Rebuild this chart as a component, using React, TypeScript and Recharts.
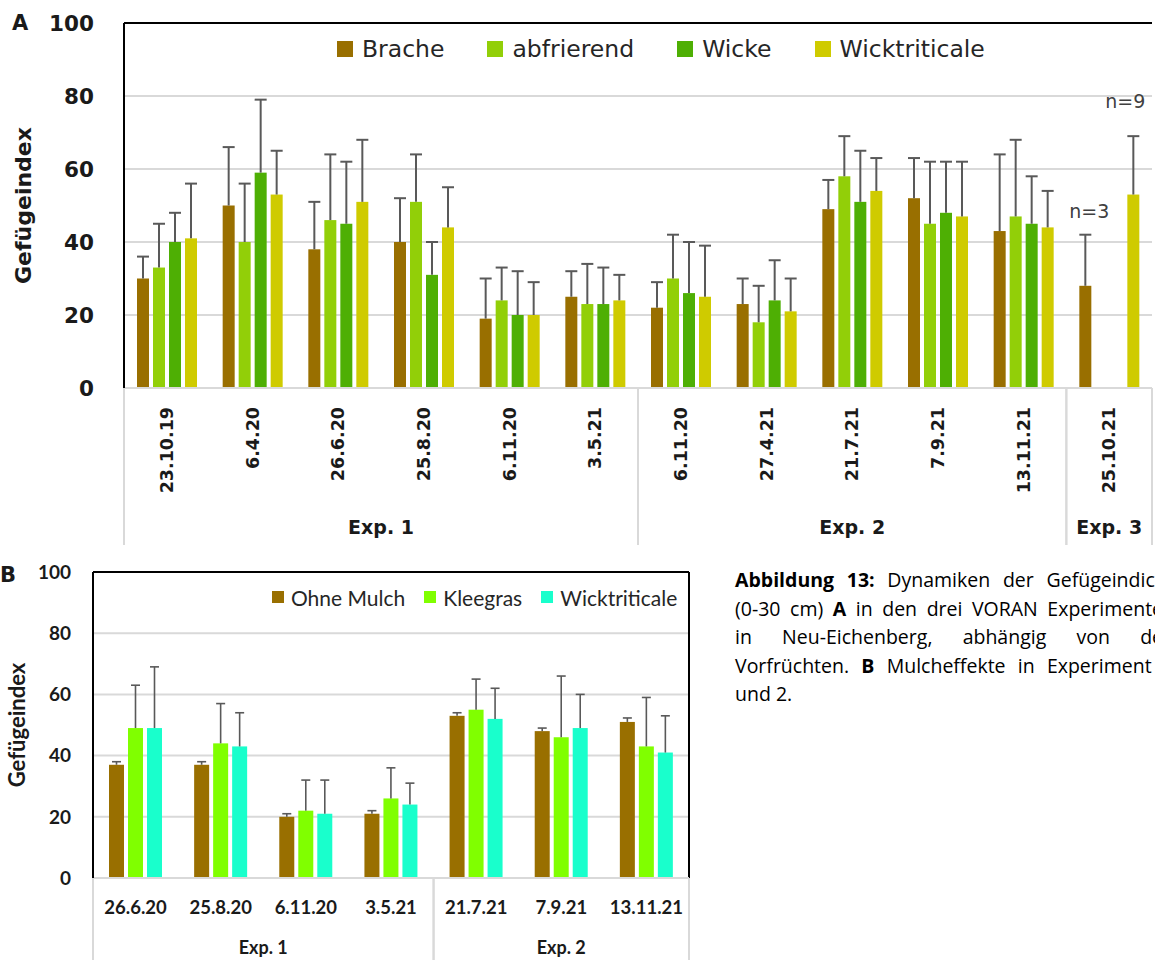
import React from 'react';
import { BarChart, Bar, XAxis, YAxis, CartesianGrid, Legend, ReferenceLine, Label } from 'recharts';

// ---------- Data: chart A ----------
const datesA = ['23.10.19', '6.4.20', '26.6.20', '25.8.20', '6.11.20', '3.5.21', '6.11.20', '27.4.21', '21.7.21', '7.9.21', '13.11.21', '25.10.21'];
const expA = ['Exp. 1', 'Exp. 1', 'Exp. 1', 'Exp. 1', 'Exp. 1', 'Exp. 1', 'Exp. 2', 'Exp. 2', 'Exp. 2', 'Exp. 2', 'Exp. 2', 'Exp. 3'];
const seriesNamesA = ['Brache', 'abfrierend', 'Wicke', 'Wicktriticale'];
const bracheMean = [30, 50, 38, 40, 19, 25, 22, 23, 49, 52, 43, 28];
const bracheSd = [6, 16, 13, 12, 11, 7, 7, 7, 8, 11, 21, 14];
const abfrierendMean = [33, 40, 46, 51, 24, 23, 30, 18, 58, 45, 47, null];
const abfrierendSd = [12, 16, 18, 13, 9, 11, 12, 10, 11, 17, 21, null];
const wickeMean = [40, 59, 45, 31, 20, 23, 26, 24, 51, 48, 45, null];
const wickeSd = [8, 20, 17, 9, 12, 10, 14, 11, 14, 14, 13, null];
const wtMeanA = [41, 53, 51, 44, 20, 24, 25, 21, 54, 47, 44, 53];
const wtSdA = [15, 12, 17, 11, 9, 7, 14, 9, 9, 15, 10, 16];
const bracheNotes = [null, null, null, null, null, null, null, null, null, null, null, 'n=3'];
const wtNotesA = [null, null, null, null, null, null, null, null, null, null, null, 'n=9'];
const groupsA = [
  { label: 'Exp. 1', start: 0, end: 5 },
  { label: 'Exp. 2', start: 6, end: 10 },
  { label: 'Exp. 3', start: 11, end: 11 },
];
const yTicks = [0, 20, 40, 60, 80, 100];

// ---------- Data: chart B ----------
const datesB = ['26.6.20', '25.8.20', '6.11.20', '3.5.21', '21.7.21', '7.9.21', '13.11.21'];
const expB = ['Exp. 1', 'Exp. 1', 'Exp. 1', 'Exp. 1', 'Exp. 2', 'Exp. 2', 'Exp. 2'];
const seriesNamesB = ['Ohne Mulch', 'Kleegras', 'Wicktriticale'];
const ohneMean = [37, 37, 20, 21, 53, 48, 51];
const ohneSd = [1, 1, 1, 1, 1, 1, 1.3];
const kleeMean = [49, 44, 22, 26, 55, 46, 43];
const kleeSd = [14, 13, 10, 10, 10, 20, 16];
const wtMeanB = [49, 43, 21, 24, 52, 49, 41];
const wtSdB = [20, 11, 11, 7, 10, 11, 12];
const groupsB = [
  { label: 'Exp. 1', start: 0, end: 3 },
  { label: 'Exp. 2', start: 4, end: 6 },
];

const dataA = datesA.map((d, i) => ({
  slot: `${expA[i]} ${d}`,
  brache: bracheMean[i], bracheSd: bracheSd[i], bracheNote: bracheNotes[i],
  abfrierend: abfrierendMean[i], abfrierendSd: abfrierendSd[i],
  wicke: wickeMean[i], wickeSd: wickeSd[i],
  wt: wtMeanA[i], wtSd: wtSdA[i], wtNote: wtNotesA[i],
}));

const dataB = datesB.map((d, i) => ({
  slot: `${expB[i]} ${d}`,
  ohne: ohneMean[i], ohneSd: ohneSd[i],
  klee: kleeMean[i], kleeSd: kleeSd[i],
  wt: wtMeanB[i], wtSd: wtSdB[i],
}));

// ---------- Styles ----------
const ERR = '#595959';
const GRID = '#D9D9D9';
const TXT = '#1a1a1a';
const FA = 'DejaVu Sans';
const FB = 'Lato';
const NOTE_OFFSET: Record<string, { dx: number; dy: number }> = {
  'n=3': { dx: 4, dy: -24 },
  'n=9': { dx: -8, dy: -35 },
};

const A_W = 1155, A_H = 550;
const A_M = { top: 23, right: 3, left: 0, bottom: 5 };
const A_YW = 124, A_XH = 157;
const BAND_A = (A_W - A_M.right - A_YW) / datesA.length;

const B_W = 700, B_H = 412;
const B_M = { top: 22, right: 11, left: 0, bottom: 2 };
const B_YW = 93, B_XH = 82;
const BAND_B = (B_W - B_M.right - B_YW) / datesB.length;

function makeShape(valueKey: string, sdKey: string, noteKey: string | null, cap: number, sw: number) {
  return (props: any) => {
    const { x, y, width, height, fill, payload } = props;
    const v = payload ? payload[valueKey] : null;
    if (v == null || !(height > 0)) return <g />;
    const k = height / v;
    const sd = payload[sdKey] || 0;
    const cx = x + width / 2;
    const yTop = y - sd * k;
    const note = noteKey ? payload[noteKey] : null;
    const off = note ? NOTE_OFFSET[note] || { dx: 0, dy: -25 } : null;
    return (
      <g>
        <rect x={x} y={y} width={width} height={height} fill={fill} />
        {sd > 0 && <line x1={cx} x2={cx} y1={y} y2={yTop} stroke={ERR} strokeWidth={sw} />}
        {sd > 0 && <line x1={cx - cap / 2} x2={cx + cap / 2} y1={yTop} y2={yTop} stroke={ERR} strokeWidth={sw} />}
        {note && off && (
          <text x={cx + off.dx} y={yTop + off.dy} textAnchor="middle" dominantBaseline="central"
            fontFamily={FA} fontSize={19} fill="#404040">{note}</text>
        )}
      </g>
    );
  };
}

function TickA(props: any) {
  const { x, y, index } = props;
  const start = groupsA.find((g) => g.start === index);
  const end = groupsA.find((g) => g.end === index);
  const ty = y + 19;
  return (
    <g>
      <text x={x} y={ty} transform={`rotate(-90 ${x} ${ty})`} textAnchor="end" dominantBaseline="central"
        fontFamily={FA} fontWeight="bold" fontSize={17.5} fill={TXT}>{datesA[index]}</text>
      {start && <line x1={x - BAND_A / 2} x2={x - BAND_A / 2} y1={y} y2={y + A_XH} stroke={GRID} strokeWidth={2} />}
      {end && <line x1={x + BAND_A / 2} x2={x + BAND_A / 2} y1={y} y2={y + A_XH} stroke={GRID} strokeWidth={2} />}
      {start && (
        <text x={x + ((start.end - start.start) * BAND_A) / 2} y={y + 139} textAnchor="middle" dominantBaseline="central"
          fontFamily={FA} fontWeight="bold" fontSize={19} fill={TXT}>{start.label}</text>
      )}
    </g>
  );
}

function TickB(props: any) {
  const { x, y, index } = props;
  const start = groupsB.find((g) => g.start === index);
  const end = groupsB.find((g) => g.end === index);
  return (
    <g>
      <text x={x} y={y + 29} textAnchor="middle" dominantBaseline="central"
        fontFamily={FB} fontWeight="bold" fontSize={18.5} fill={TXT}>{datesB[index]}</text>
      {start && <line x1={x - BAND_B / 2} x2={x - BAND_B / 2} y1={y} y2={y + B_XH} stroke={GRID} strokeWidth={2} />}
      {end && <line x1={x + BAND_B / 2} x2={x + BAND_B / 2} y1={y} y2={y + B_XH} stroke={GRID} strokeWidth={2} />}
      {start && (
        <text x={x + ((start.end - start.start) * BAND_B) / 2} y={y + 69} textAnchor="middle" dominantBaseline="central"
          fontFamily={FB} fontWeight="bold" fontSize={18} fill={TXT}>{start.label}</text>
      )}
    </g>
  );
}

function YLabel(props: any) {
  const vb = props.viewBox || {};
  const x = (vb.x || 0) + props.cx;
  const y = (vb.y || 0) + (vb.height || 0) / 2;
  return (
    <text x={x} y={y} transform={`rotate(-90 ${x} ${y})`} textAnchor="middle" dominantBaseline="central"
      fontFamily={props.font} fontWeight="bold" fontSize={props.size} fill={TXT}>Gefügeindex</text>
  );
}

function makeLegend(order: string[], font: string, size: number, box: number, markGap: number, itemGap: number) {
  return (props: any) => {
    const payload = [...(props.payload || [])].sort(
      (a: any, b: any) => order.indexOf(a.value) - order.indexOf(b.value)
    );
    return (
      <div style={{ display: 'flex', alignItems: 'center', height: 30, fontFamily: font, fontSize: size, color: '#262626', whiteSpace: 'nowrap' }}>
        {payload.map((e: any, i: number) => (
          <div key={i} style={{ display: 'flex', alignItems: 'center', marginRight: itemGap }}>
            <span style={{ display: 'inline-block', width: box, height: box, background: e.color, marginRight: markGap }} />
            <span>{e.value}</span>
          </div>
        ))}
      </div>
    );
  };
}

const captionLines: { parts: { t: string; b?: boolean }[]; last?: boolean }[] = [
  { parts: [{ t: 'Abbildung 13:', b: true }, { t: ' Dynamiken der Gefügeindices' }] },
  { parts: [{ t: '(0-30 cm) ' }, { t: 'A', b: true }, { t: ' in den drei VORAN Experimenten' }] },
  { parts: [{ t: 'in Neu-Eichenberg, abhängig von den' }] },
  { parts: [{ t: 'Vorfrüchten. ' }, { t: 'B', b: true }, { t: ' Mulcheffekte in Experiment 1' }] },
  { parts: [{ t: 'und 2.' }], last: true },
];

export default function App() {
  return (
    <div style={{ position: 'absolute', left: 0, top: 0, width: 1155, height: 962, overflow: 'hidden', background: '#fff' }}>
      {/* Chart A */}
      <div style={{ position: 'absolute', left: 0, top: 0 }}>
        <BarChart width={A_W} height={A_H} data={dataA} margin={A_M} barSize={12} barGap={4}>
          <CartesianGrid vertical={false} stroke={GRID} strokeWidth={2} />
          <XAxis dataKey="slot" height={A_XH} interval={0} tickSize={0} tickMargin={0} tickLine={false}
            axisLine={{ stroke: GRID, strokeWidth: 2 }} tick={<TickA />} />
          <YAxis domain={[0, 100]} ticks={yTicks} width={A_YW} tickSize={0} tickMargin={30} tickLine={false}
            axisLine={{ stroke: '#000', strokeWidth: 2 }}
            tick={{ fontFamily: FA, fontWeight: 'bold', fontSize: 21.5, fill: TXT }}>
            <Label content={<YLabel cx={23} font={FA} size={22} />} />
          </YAxis>
          <ReferenceLine y={100} stroke="#000" strokeWidth={2} />
          <ReferenceLine x={dataA[dataA.length - 1].slot} position="end" stroke="#000" strokeWidth={2} />
          <Legend verticalAlign="middle" align="center" layout="horizontal"
            content={makeLegend(seriesNamesA, FA, 23.5, 16, 9, 43)}
            wrapperStyle={{ top: 34, left: 337, width: 800 }} />
          <Bar dataKey="brache" name={seriesNamesA[0]} fill="#996F00" isAnimationActive={false}
            shape={makeShape('brache', 'bracheSd', 'bracheNote', 12, 2)} />
          <Bar dataKey="abfrierend" name={seriesNamesA[1]} fill="#92CF08" isAnimationActive={false}
            shape={makeShape('abfrierend', 'abfrierendSd', null, 12, 2)} />
          <Bar dataKey="wicke" name={seriesNamesA[2]} fill="#4EAF04" isAnimationActive={false}
            shape={makeShape('wicke', 'wickeSd', null, 12, 2)} />
          <Bar dataKey="wt" name={seriesNamesA[3]} fill="#CFCB00" isAnimationActive={false}
            shape={makeShape('wt', 'wtSd', 'wtNote', 12, 2)} />
        </BarChart>
      </div>

      {/* Chart B */}
      <div style={{ position: 'absolute', left: 0, top: 550 }}>
        <BarChart width={B_W} height={B_H} data={dataB} margin={B_M} barSize={15} barGap={4}>
          <CartesianGrid vertical={false} stroke={GRID} strokeWidth={2} />
          <XAxis dataKey="slot" height={B_XH} interval={0} tickSize={0} tickMargin={0} tickLine={false}
            axisLine={{ stroke: GRID, strokeWidth: 2 }} tick={<TickB />} />
          <YAxis domain={[0, 100]} ticks={yTicks} width={B_YW} tickSize={0} tickMargin={22} tickLine={false}
            axisLine={{ stroke: '#000', strokeWidth: 2 }}
            tick={{ fontFamily: FB, fontWeight: 'bold', fontSize: 19, fill: TXT }}>
            <Label content={<YLabel cx={16} font={FB} size={22} />} />
          </YAxis>
          <ReferenceLine y={100} stroke="#000" strokeWidth={2} />
          <ReferenceLine x={dataB[dataB.length - 1].slot} position="end" stroke="#000" strokeWidth={2} />
          <Legend verticalAlign="middle" align="center" layout="horizontal"
            content={makeLegend(seriesNamesB, FB, 21, 12, 7, 19)}
            wrapperStyle={{ top: 32, left: 272, width: 420 }} />
          <Bar dataKey="ohne" name={seriesNamesB[0]} fill="#996F00" isAnimationActive={false}
            shape={makeShape('ohne', 'ohneSd', null, 9, 1.6)} />
          <Bar dataKey="klee" name={seriesNamesB[1]} fill="#80FF00" isAnimationActive={false}
            shape={makeShape('klee', 'kleeSd', null, 9, 1.6)} />
          <Bar dataKey="wt" name={seriesNamesB[2]} fill="#19FFCC" isAnimationActive={false}
            shape={makeShape('wt', 'wtSd', null, 9, 1.6)} />
        </BarChart>
      </div>

      {/* Panel letters */}
      <svg width={1155} height={962} style={{ position: 'absolute', left: 0, top: 0, pointerEvents: 'none' }}>
        <text x={12} y={30} fontFamily={FA} fontWeight="bold" fontSize={21} fill={TXT}>A</text>
        <text x={0} y={582} fontFamily={FA} fontWeight="bold" fontSize={21} fill={TXT}>B</text>
      </svg>

      {/* Caption */}
      <div style={{ position: 'absolute', left: 735, top: 566, width: 440, fontFamily: 'Open Sans', fontSize: 19.5, lineHeight: '28.5px', color: '#000' }}>
        {captionLines.map((ln, i) => (
          <div key={i} style={{ textAlign: ln.last ? 'left' : 'justify', textAlignLast: ln.last ? 'left' : 'justify', whiteSpace: 'nowrap' } as any}>
            {ln.parts.map((p, j) => (
              <span key={j} style={{ fontWeight: p.b ? 'bold' : 'normal' }}>{p.t}</span>
            ))}
          </div>
        ))}
      </div>
    </div>
  );
}
